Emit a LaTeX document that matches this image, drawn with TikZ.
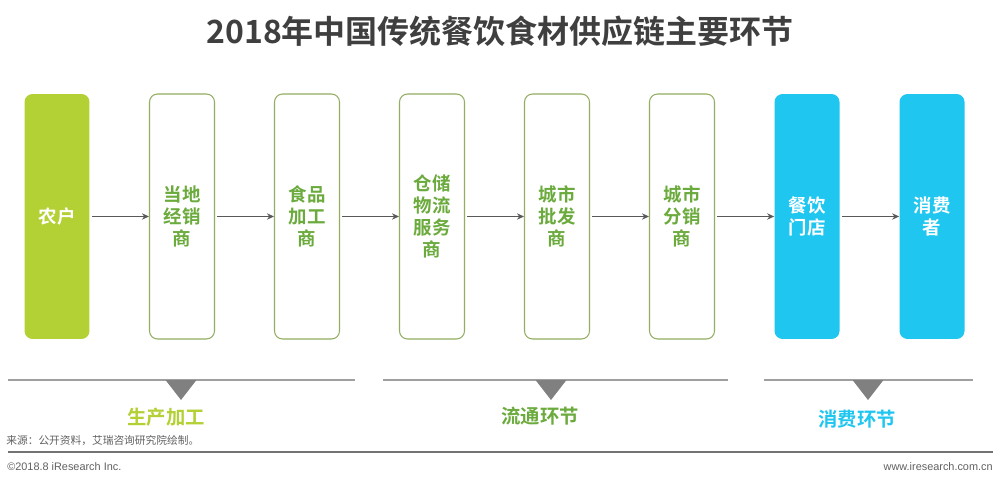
\documentclass[tikz,border=0pt]{standalone}
\usepackage{fontspec}
\setmainfont{Noto Sans CJK SC}[BoldFont={Noto Sans CJK SC Bold}]
\newfontfamily\arialfont{Liberation Sans}
\usepackage{tikz}
\usetikzlibrary{arrows.meta, positioning}
\definecolor{farmgreen}{HTML}{B3D035}
\definecolor{chaingreen}{HTML}{6BAA3C}
\definecolor{boxline}{HTML}{93AD62}
\definecolor{shopblue}{HTML}{1FC6EF}
\definecolor{titlegray}{HTML}{3F3F3F}
\definecolor{tabgray}{HTML}{808080}
\colorlet{notegray}{black!62}

\begin{document}
\begin{tikzpicture}[x=0.02cm, y=-0.02cm, >=Stealth,
    stage/.style={rounded corners=0.16cm, minimum width=1.3cm, minimum height=4.9cm,
      inner sep=0pt, align=center, font=\bfseries\fontsize{10.5pt}{12.6pt}\selectfont},
    openbox/.style={stage, draw=boxline, line width=0.6pt, fill=white, text=chaingreen},
    fullbox/.style={stage, fill=#1, text=white},
    flow/.style={->, draw=black!65, line width=0.6pt, shorten <=0.04cm,
      >={Stealth[length=4pt, width=3.6pt]}},
    phase/.style={font=\bfseries\fontsize{11pt}{13pt}\selectfont}]
    \useasboundingbox[fill=white] (0,0) rectangle (1000,479);

    \node[text=titlegray, font=\bfseries\fontsize{18.2pt}{21pt}\selectfont] (title) at (500,31) {2018年中国传统餐饮食材供应链主要环节};

    % supply chain stages
    \node[fullbox=farmgreen] (farm) at (57,216.5) {农户};
    \node[openbox] (local) at (182,216.5) {当地\\经销\\商};
    \node[openbox] (process) at (307,216.5) {食品\\加工\\商};
    \node[openbox] (storage) at (432,216.5) {仓储\\物流\\服务\\商};
    \node[openbox] (wholesale) at (557,216.5) {城市\\批发\\商};
    \node[openbox] (retail) at (682,216.5) {城市\\分销\\商};
    \node[fullbox=shopblue] (restaurant) at (807,216.5) {餐饮\\门店};
    \node[fullbox=shopblue] (consumer) at (932,216.5) {消费\\者};

    \draw[flow] (farm) -- (local);
    \draw[flow] (local) -- (process);
    \draw[flow] (process) -- (storage);
    \draw[flow] (storage) -- (wholesale);
    \draw[flow] (wholesale) -- (retail);
    \draw[flow] (retail) -- (restaurant);
    \draw[flow] (restaurant) -- (consumer);

    % phase brackets
    \draw[gray!75, line width=0.9pt] (8,380) -- (355,380);
    \draw[gray!75, line width=0.9pt] (383,380) -- (728,380);
    \draw[gray!75, line width=0.9pt] (764,380) -- (973,380);
    \fill[tabgray] (165.5,380) -- (196.5,380) -- (181,400) -- cycle;
    \fill[tabgray] (535.5,380) -- (566.5,380) -- (551,400) -- cycle;
    \fill[tabgray] (852.5,380) -- (883.5,380) -- (868,400) -- cycle;

    \node[phase, text=farmgreen] (produce) at (166,417) {生产加工};
    \node[phase, text=chaingreen] (circulate) at (540,416) {流通环节};
    \node[phase, text=shopblue] (consume) at (857,419) {消费环节};

    % source and footer
    \node[anchor=west, inner sep=0pt, text=notegray, font=\fontsize{6.1pt}{7pt}\selectfont] (source) at (6,441) {来源：公开资料，艾瑞咨询研究院绘制。};
    \draw[black!55, line width=0.6pt] (8,452) -- (993,452);
    \node[anchor=west, inner sep=0pt, text=notegray, font=\arialfont\fontsize{6.2pt}{7pt}\selectfont] (copyright) at (7,467) {©2018.8 iResearch Inc.};
    \node[anchor=east, inner sep=0pt, text=notegray, font=\arialfont\fontsize{6.2pt}{7pt}\selectfont] (website) at (993,467) {www.iresearch.com.cn};
\end{tikzpicture}
\end{document}
